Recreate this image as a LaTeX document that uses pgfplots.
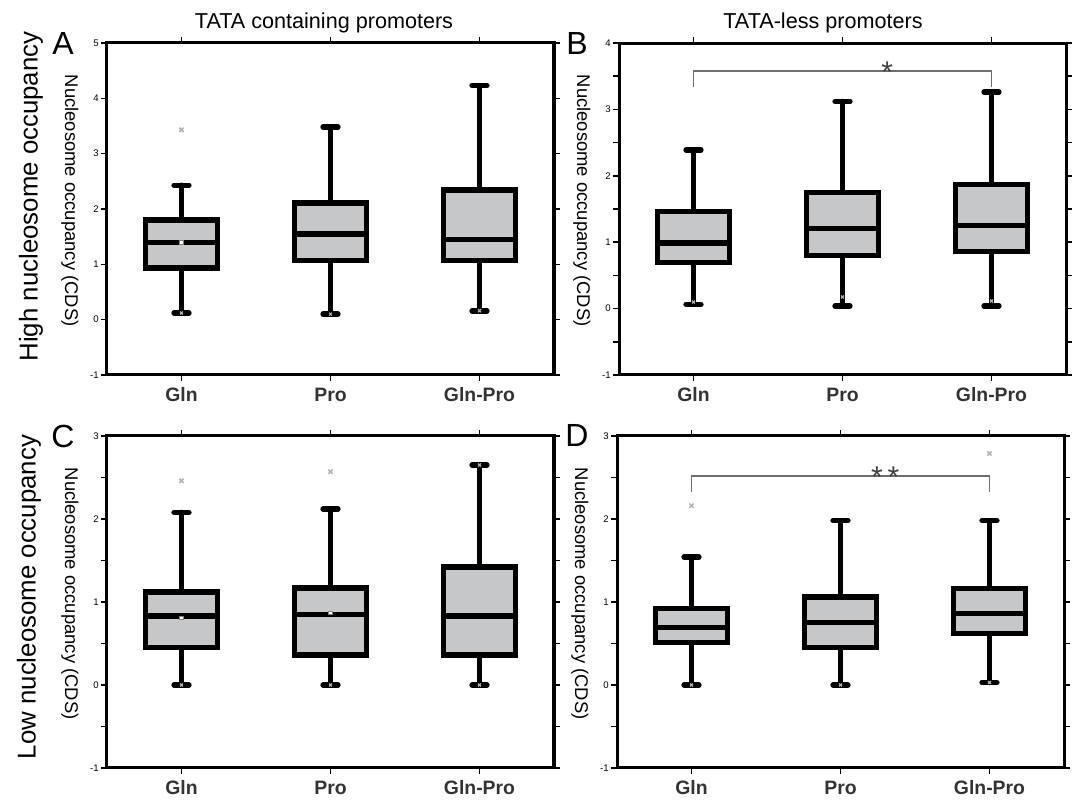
\documentclass[border=0pt]{standalone}
\usepackage{fontspec}
\setmainfont{Liberation Sans}
\usepackage{pgfplots}
\pgfplotsset{compat=1.18}
\usepgfplotslibrary{statistics}
\definecolor{boxgray}{RGB}{198,199,201}
\definecolor{outg}{RGB}{180,180,180}
\definecolor{brk}{RGB}{110,110,110}
\pgfplotsset{
  panel/.style={
    scale only axis, width=223.5pt, height=166pt, anchor=south west,
    xmin=0.5, xmax=3.5, xtick={1,2,3}, xticklabels={Gln,Pro,Gln-Pro},
    ymin=-1, tick align=outside, major tick length=3pt, minor tick length=3pt,
    axis line style={line width=1.5pt},
    every tick/.style={black, line width=0.8pt},
    /pgf/number format/assume math mode=true,
    yticklabel style={font=\fontsize{4.8}{5}\selectfont, inner sep=1pt},
    xticklabel style={font=\bfseries\fontsize{9.7}{10}\selectfont, text=black!80, inner sep=0pt, anchor=north, text height=7.2pt, text depth=0pt, yshift=-3pt},
    clip=false,
    boxplot/draw direction=y,
    boxplot/box extend=0.48,
    boxplot/whisker extend=0.1,
    boxplot/every box/.style={draw=black, fill=boxgray, line width=2.7pt},
    boxplot/every median/.style={draw=black, line width=2.7pt},
    boxplot/every whisker/.style={draw=black, line width=2.7pt, line cap=round},
  },
  outl/.style={only marks, mark=x, mark size=1.5pt, color=outg, line width=0.8pt},
  ext/.style={only marks, mark=x, mark size=1pt, color=outg, line width=0.6pt},
  mn/.style={only marks, mark=square*, mark size=0.9pt, mark options={fill=white, draw=gray, line width=0.4pt}},
  brack/.style={color=brk, line width=0.8pt, mark=none},
}
\newcommand{\ylab}{\node[rotate=-90, font=\fontsize{9.2}{10}\selectfont] at ([xshift=-18.5pt]rel axis cs:0,0.525) {Nucleosome occupancy (CDS)};}
\begin{document}
\begin{tikzpicture}
\path[use as bounding box] (0,0) rectangle (536pt,401pt);

% ---------- A ----------
\begin{axis}[panel, at={(53.5pt,213.5pt)}, ymax=5, ytick={-1,0,...,5}]
\addplot[boxplot prepared={draw position=1, lower whisker=0.12, lower quartile=0.93, median=1.39, upper quartile=1.80, upper whisker=2.43}] coordinates {};
\addplot[boxplot prepared={draw position=2, lower whisker=0.10, lower quartile=1.07, median=1.55, upper quartile=2.11, upper whisker=3.48}] coordinates {};
\addplot[boxplot prepared={draw position=3, lower whisker=0.16, lower quartile=1.07, median=1.45, upper quartile=2.34, upper whisker=4.23}] coordinates {};
\addplot[outl] coordinates {(1,3.43)};
\addplot[ext] coordinates {(1,0.12) (2,0.10) (3,0.16)};
\addplot[mn] coordinates {(1,1.40)};
\ylab
\end{axis}

% ---------- B ----------
\begin{axis}[panel, at={(309.5pt,213.5pt)}, ymax=4, ytick={-1,0,...,4}, minor y tick num=1]
\addplot[boxplot prepared={draw position=1, lower whisker=0.065, lower quartile=0.69, median=0.99, upper quartile=1.46, upper whisker=2.39}] coordinates {};
\addplot[boxplot prepared={draw position=2, lower whisker=0.04, lower quartile=0.80, median=1.21, upper quartile=1.75, upper whisker=3.12}] coordinates {};
\addplot[boxplot prepared={draw position=3, lower whisker=0.04, lower quartile=0.86, median=1.25, upper quartile=1.87, upper whisker=3.26}] coordinates {};
\addplot[ext] coordinates {(1,0.10) (2,0.175) (3,0.115)};
\addplot[brack] coordinates {(1,3.34) (1,3.58) (3,3.58) (3,3.34)};
\node[anchor=base, font=\fontsize{15}{15}\selectfont, text=black!75] at (axis cs:2.30,3.40) {*};
\ylab
\end{axis}

% ---------- C ----------
\begin{axis}[panel, at={(53.5pt,17pt)}, ymax=3, ytick={-1,0,...,3}, minor y tick num=1]
\addplot[boxplot prepared={draw position=1, lower whisker=0, lower quartile=0.45, median=0.83, upper quartile=1.12, upper whisker=2.08}] coordinates {};
\addplot[boxplot prepared={draw position=2, lower whisker=0, lower quartile=0.36, median=0.85, upper quartile=1.17, upper whisker=2.12}] coordinates {};
\addplot[boxplot prepared={draw position=3, lower whisker=0, lower quartile=0.36, median=0.83, upper quartile=1.42, upper whisker=2.65}] coordinates {};
\addplot[outl] coordinates {(1,2.46) (2,2.57)};
\addplot[ext] coordinates {(1,0) (2,0) (3,0) (3,2.65)};
\addplot[mn] coordinates {(1,0.81) (2,0.87)};
\ylab
\end{axis}

% ---------- D ----------
\begin{axis}[panel, at={(308.5pt,17pt)}, ymax=3, ytick={-1,0,...,3}, minor y tick num=1]
\addplot[boxplot prepared={draw position=1, lower whisker=0, lower quartile=0.51, median=0.69, upper quartile=0.92, upper whisker=1.54}] coordinates {};
\addplot[boxplot prepared={draw position=2, lower whisker=0, lower quartile=0.45, median=0.75, upper quartile=1.06, upper whisker=1.98}] coordinates {};
\addplot[boxplot prepared={draw position=3, lower whisker=0.03, lower quartile=0.62, median=0.86, upper quartile=1.16, upper whisker=1.98}] coordinates {};
\addplot[outl] coordinates {(1,2.16) (3,2.79)};
\addplot[ext] coordinates {(1,0) (2,0) (3,0.03)};
\addplot[brack] coordinates {(1,2.33) (1,2.52) (3,2.52) (3,2.33)};
\node[anchor=base, font=\fontsize{15}{15}\selectfont, text=black!75] at (axis cs:2.30,2.38) {*\,*};
\ylab
\end{axis}

% ---------- outer labels ----------
\node[anchor=base, font=\fontsize{10.8}{12}\selectfont] at (162pt,386.8pt) {TATA containing promoters};
\node[anchor=base, font=\fontsize{10.8}{12}\selectfont] at (411.5pt,386.8pt) {TATA-less promoters};
\node[rotate=90, font=\fontsize{12.9}{14}\selectfont] at (15.5pt,302.75pt) {High nucleosome occupancy};
\node[rotate=90, font=\fontsize{12.9}{14}\selectfont] at (14.5pt,102.5pt) {Low nucleosome occupancy};
\node[font=\fontsize{16}{16}\selectfont] at (31.5pt,379.25pt) {A};
\node[font=\fontsize{16}{16}\selectfont] at (288.5pt,379pt) {B};
\node[font=\fontsize{16}{16}\selectfont] at (31.5pt,183pt) {C};
\node[font=\fontsize{16}{16}\selectfont] at (288.5pt,183pt) {D};
\end{tikzpicture}
\end{document}
